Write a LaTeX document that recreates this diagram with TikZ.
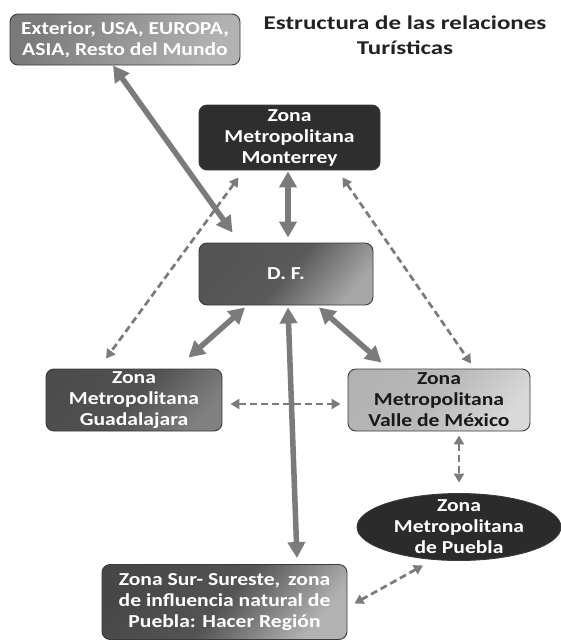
\documentclass[tikz,border=0pt]{standalone}
\usepackage{fontspec}
\newfontfamily\boxfont{Carlito}[FakeStretch=1.18]
\newfontfamily\titlefont{Carlito}[FakeStretch=1.28]
\usetikzlibrary{arrows.meta,shapes.geometric}
\definecolor{arrowgray}{HTML}{7B7B7B}
\definecolor{boxline}{HTML}{3A3A3A}
\definecolor{titlecol}{HTML}{222222}
\begin{document}
\begin{tikzpicture}[x=1pt,y=-1pt,
  box/.style={rectangle, rounded corners=8pt, draw=boxline, line width=0.9pt,
    inner sep=0pt, align=center, text=white,
    font=\boxfont\bfseries\fontsize{18.3}{21}\selectfont},
  txt/.style={inner sep=0pt, align=center, text=white,
    font=\boxfont\bfseries\fontsize{18.3}{21}\selectfont},
  biarrow/.style={draw=arrowgray, line width=5.5pt,
    {Triangle[length=16pt,width=17pt]}-{Triangle[length=16pt,width=17pt]}},
  dasharrow/.style={draw=arrowgray, line width=2.7pt, dash pattern=on 7pt off 4pt,
    {Triangle[length=9pt,width=10pt]}-{Triangle[length=9pt,width=10pt]}}
]
\useasboundingbox (0,0) rectangle (561,641);

% title
\node[inner sep=0pt, align=center, text=titlecol,
  font=\titlefont\bfseries\fontsize{19.5}{25}\selectfont] (title) at (405,35)
  {Estructura de las relaciones\\Turísticas};

% boxes
\node[box, minimum width=230pt, minimum height=51pt,
  top color=black!52, bottom color=black!30, shading angle=60] (ext) at (125,39.5)
  {Exterior, USA, EUROPA,\\ASIA, Resto del Mundo};
\node[box, minimum width=181pt, minimum height=65pt, fill=black!82] (mon) at (289.5,137.5)
  {Zona\\Metropolitana\\Monterrey};
\node[box, minimum width=174pt, minimum height=62pt,
  top color=black!67, bottom color=black!35, middle color=black!65, shading angle=50] (df) at (286,274)
  {D. F.};
\node[box, minimum width=176pt, minimum height=62pt,
  top color=black!70, bottom color=black!50, middle color=black!68, shading angle=50] (guad) at (134,400)
  {Zona\\Metropolitana\\Guadalajara};
\node[box, minimum width=182pt, minimum height=62pt, text=black!90,
  top color=black!30, bottom color=black!15, middle color=black!27, shading angle=50] (valle) at (439,400)
  {Zona\\Metropolitana\\Valle de México};
\node[ellipse, draw=boxline, line width=0.9pt, fill=black!83, inner sep=0pt,
  minimum width=204pt, minimum height=67pt] (pue) at (459,527) {};
\node[txt] (puetext) at (pue.center) {Zona\\Metropolitana\\de Puebla};
\node[box, minimum width=245pt, minimum height=75pt,
  top color=black!72, bottom color=black!30, middle color=black!67, shading angle=50] (sur) at (224.5,602)
  {Zona Sur- Sureste,\, zona\\de influencia natural de\\Puebla: Hacer Región};

% solid double arrows
\draw[biarrow] ([xshift=-12pt]ext.south) -- ([xshift=34pt,yshift=10pt]df.north west);
\draw[biarrow] ([xshift=-1.5pt,yshift=-1pt]mon.south) -- ([xshift=2pt,yshift=5pt]df.north);
\draw[biarrow] ([xshift=-41pt,yshift=-2pt]df.south) -- ([xshift=-34pt,yshift=11pt]guad.north east);
\draw[biarrow] ([xshift=33pt,yshift=-2pt]df.south) -- ([xshift=34pt,yshift=6pt]valle.north west);
\draw[biarrow] ([xshift=2pt,yshift=-2pt]df.south) -- ([xshift=72.5pt,yshift=6pt]sur.north);

% dashed double arrows
\draw[dasharrow] ([xshift=40pt,yshift=-7pt]mon.south west) -- ([xshift=-28pt,yshift=10pt]guad.north);
\draw[dasharrow] ([xshift=-38pt,yshift=-7pt]mon.south east) -- ([xshift=32pt,yshift=5pt]valle.north);
\draw[dasharrow] ([xshift=8pt,yshift=-4pt]guad.east) -- ([xshift=-7pt,yshift=-4pt]valle.west);
\draw[dasharrow] ([xshift=20pt,yshift=-4pt]valle.south) -- ([yshift=10.5pt]pue.north);
\draw[dasharrow] ([xshift=-36pt,yshift=-4.5pt]pue.south) -- ([xshift=7pt,yshift=-1.5pt]sur.east);
\end{tikzpicture}
\end{document}
